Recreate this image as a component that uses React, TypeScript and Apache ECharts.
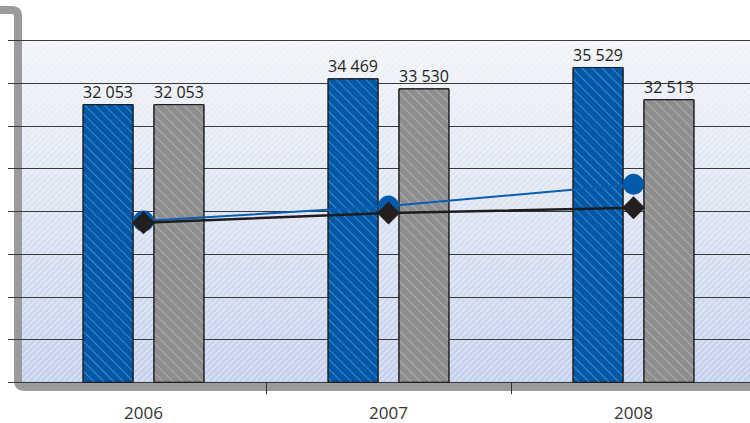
import React, { useEffect, useRef } from "react";
import * as echarts from "echarts";

const categories = ["2006", "2007", "2008"];
const barBlue = [32053, 34469, 35529];
const barGray = [32053, 33530, 32513];
const lineCircle = [21100, 22500, 24550];
const lineDiamond = [20950, 21850, 22350];
const yMin = 6000;
const yMax = 38000;
const yStep = 4000;

const fmt = (v: number) => {
  const s = String(Math.round(v));
  return s.replace(/\B(?=(\d{3})+(?!\d))/g, " ");
};

echarts.graphic.registerShape(
  "frameShape",
  echarts.graphic.extendPath("M0 10 L12 10 Q18 10 18 16 L18 380 Q18 387 25 387 L760 387", {}) as any
);

function makeHatch(): string | null {
  try {
    const c = document.createElement("canvas");
    c.width = 12;
    c.height = 12;
    const ctx = c.getContext("2d");
    if (!ctx) return null;
    ctx.strokeStyle = "rgba(255,255,255,0.55)";
    ctx.lineWidth = 2;
    for (let k = -12; k <= 24; k += 6) {
      ctx.beginPath();
      ctx.moveTo(k, 12);
      ctx.lineTo(k + 12, 0);
      ctx.stroke();
    }
    return c.toDataURL();
  } catch (e) {
    return null;
  }
}

export default function App() {
  const ref = useRef<HTMLDivElement>(null);
  useEffect(() => {
    if (!ref.current) return;
    const chart = echarts.init(ref.current, undefined, { renderer: "svg" });
    const font = "'Open Sans', 'Noto Sans', sans-serif";
    const decalWhite = {
      symbol: "rect",
      color: "rgba(255,255,255,0.28)",
      dashArrayX: [1, 0],
      dashArrayY: [1, 6],
      rotation: Math.PI / 4,
    };
    const hatch = makeHatch();
    const graphics: any[] = [
      {
        type: "rect",
        z: -20,
        shape: { x: 21, y: 40.6, width: 740, height: 341.7 },
        style: {
          fill: new echarts.graphic.LinearGradient(0, 0, 0, 1, [
            { offset: 0, color: "#f1f3f8" },
            { offset: 0.45, color: "#dce3f1" },
            { offset: 1, color: "#c2cfeb" },
          ]),
        },
      },
    ];
    if (hatch) {
      graphics.push({
        type: "rect",
        z: -15,
        shape: { x: 22, y: 41, width: 740, height: 340 },
        style: {
          fill: { image: hatch, repeat: "repeat", imageWidth: 12, imageHeight: 12 },
          opacity: 0.6,
        },
      });
    }
    graphics.push({
      type: "frameShape",
      z: -10,
      style: { fill: "none", stroke: "#9b9b9d", lineWidth: 8 },
    });
    chart.setOption({
      animation: false,
      backgroundColor: "#ffffff",
      grid: { left: 21, right: 0, top: 40.6, bottom: 40.7, containLabel: false },
      graphic: graphics,
      xAxis: {
        type: "category",
        data: categories,
        axisLine: { show: false },
        axisTick: {
          show: true,
          length: 12,
          interval: (i: number) => i !== 0,
          lineStyle: { color: "#333", width: 1 },
        },
        axisLabel: { fontFamily: font, fontSize: 17, color: "#333", margin: 22 },
      },
      yAxis: {
        type: "value",
        min: yMin,
        max: yMax,
        interval: yStep,
        axisLine: { show: false },
        axisLabel: { show: false },
        axisTick: { show: true, length: 13, lineStyle: { color: "#3a3a3a" } },
        splitLine: { show: true, lineStyle: { color: "#3a3a3a", width: 1 } },
      },
      series: [
        {
          type: "bar",
          data: barBlue,
          barWidth: 51,
          barGap: "39%",
          itemStyle: { color: "#0058a8", borderColor: "#1e1e1e", borderWidth: 1, decal: decalWhite },
          label: {
            show: true,
            position: "top",
            distance: 4,
            fontFamily: font,
            fontSize: 16,
            color: "#231f20",
            formatter: (p: any) => fmt(p.value),
          },
          z: 2,
        },
        {
          type: "bar",
          data: barGray,
          barWidth: 51,
          itemStyle: { color: "#8e8e90", borderColor: "#1e1e1e", borderWidth: 1, decal: decalWhite },
          label: {
            show: true,
            position: "top",
            distance: 4,
            fontFamily: font,
            fontSize: 16,
            color: "#231f20",
            formatter: (p: any) => fmt(p.value),
          },
          z: 2,
        },
        {
          type: "line",
          data: lineCircle,
          symbol: "circle",
          symbolSize: 21,
          lineStyle: { color: "#0a5db0", width: 2 },
          itemStyle: { color: "#005bac" },
          z: 3,
        },
        {
          type: "line",
          data: lineDiamond,
          symbol: "diamond",
          symbolSize: 23,
          lineStyle: { color: "#1e1c1c", width: 2.5 },
          itemStyle: { color: "#231f20" },
          z: 4,
        },
      ],
    });
    return () => chart.dispose();
  }, []);
  return (
    <div style={{ width: 750, height: 423, position: "absolute", left: 0, top: 0, overflow: "hidden" }}>
      <div ref={ref} style={{ width: 756, height: 423 }} />
    </div>
  );
}
